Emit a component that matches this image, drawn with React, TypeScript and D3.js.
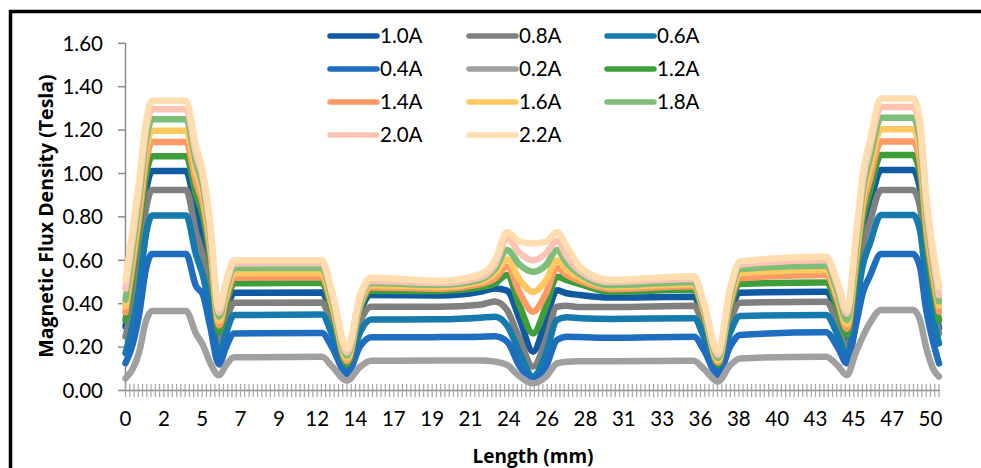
import React from "react";
import * as d3 from "d3";

const LENGTH_MM = [0, 0.40, 0.84, 1.27, 1.65, 3.76, 4.38, 4.81, 5.25, 5.81, 6.24, 6.74, 12.20, 12.83, 13.76, 14.57, 15.25, 19.53, 22.02, 22.95, 23.70, 24.50, 25.31, 26.12, 26.80, 27.42, 28.23, 30.09, 35.31, 35.93, 36.80, 37.55, 38.17, 43.51, 44.25, 44.81, 45.37, 45.81, 46.24, 46.93, 48.91, 49.35, 49.72, 50.16, 50.53];

const B_10 = [.294, .452, .667, .918, 1.011, 1.011, .818, .703, .533, .24, .356, .45, .452, .332, .11, .358, .44, .438, .455, .47, .46, .325, .179, .325, .462, .448, .44, .428, .432, .319, .11, .349, .451, .455, .337, .218, .497, .737, .856, 1.016, 1.016, .929, .652, .433, .287];
const B_08 = [.248, .383, .572, .836, .924, .924, .729, .620, .453, .20, .312, .404, .405, .298, .10, .315, .386, .386, .395, .41, .37, .233, .11, .233, .386, .39, .385, .385, .39, .287, .095, .311, .404, .409, .30, .19, .447, .667, .777, .924, .924, .845, .594, .396, .264];
const B_06 = [.172, .286, .464, .718, .807, .807, .626, .529, .374, .16, .263, .348, .35, .259, .09, .268, .327, .328, .335, .34, .30, .171, .064, .171, .325, .337, .333, .33, .333, .246, .085, .266, .343, .348, .252, .156, .385, .580, .678, .809, .809, .738, .513, .335, .217];
const B_04 = [.126, .201, .347, .559, .629, .629, .481, .441, .298, .12, .199, .263, .265, .199, .075, .203, .245, .246, .248, .25, .225, .11, .048, .11, .233, .248, .246, .243, .248, .186, .071, .201, .256, .268, .197, .125, .301, .453, .528, .629, .629, .569, .377, .226, .125];
const B_02 = [.056, .093, .174, .32, .366, .366, .262, .209, .129, .07, .116, .153, .155, .111, .045, .109, .137, .138, .138, .133, .118, .064, .033, .064, .125, .133, .135, .135, .137, .099, .041, .116, .148, .156, .114, .071, .176, .251, .311, .371, .371, .325, .202, .101, .064];
const B_12 = [.325, .514, .740, .989, 1.08, 1.08, .902, .805, .610, .27, .393, .494, .496, .364, .12, .375, .46, .458, .475, .494, .532, .386, .263, .386, .524, .509, .49, .455, .465, .344, .12, .38, .491, .498, .377, .256, .546, .795, .919, 1.085, 1.085, .994, .705, .477, .325];
const B_14 = [.36, .556, .792, 1.051, 1.145, 1.145, .959, .858, .655, .30, .421, .52, .522, .387, .135, .39, .475, .469, .49, .517, .57, .448, .363, .448, .565, .532, .505, .468, .48, .358, .13, .401, .517, .532, .409, .285, .587, .845, .975, 1.147, 1.147, 1.053, .755, .52, .363];
const B_16 = [.39, .592, .834, 1.100, 1.197, 1.197, 1.004, .899, .688, .32, .441, .54, .542, .404, .147, .401, .485, .478, .50, .54, .604, .509, .455, .509, .60, .555, .52, .478, .49, .368, .14, .42, .54, .555, .43, .305, .620, .889, 1.024, 1.204, 1.204, 1.106, .797, .553, .39];
const B_18 = [.42, .628, .877, 1.150, 1.25, 1.25, 1.050, .941, .722, .34, .464, .565, .565, .423, .16, .411, .495, .487, .51, .56, .648, .578, .547, .578, .647, .586, .535, .485, .50, .378, .15, .437, .56, .575, .45, .325, .651, .931, 1.071, 1.257, 1.257, 1.155, .834, .579, .41];
const B_20 = [.47, .677, .924, 1.197, 1.296, 1.296, 1.090, .978, .753, .36, .484, .585, .588, .443, .175, .423, .505, .495, .52, .58, .70, .632, .60, .632, .69, .617, .55, .50, .515, .393, .165, .456, .58, .60, .478, .355, .688, .974, 1.117, 1.307, 1.307, 1.203, .874, .613, .44];
const B_22 = [.51, .716, .964, 1.236, 1.335, 1.335, 1.125, 1.010, .781, .38, .501, .60, .60, .458, .195, .439, .52, .505, .535, .60, .73, .686, .678, .686, .73, .663, .57, .51, .527, .406, .18, .47, .595, .616, .494, .371, .712, 1.005, 1.151, 1.346, 1.346, 1.242, .913, .653, .48];

const SERIES_NAMES = ["1.0A", "0.8A", "0.6A", "0.4A", "0.2A", "1.2A", "1.4A", "1.6A", "1.8A", "2.0A", "2.2A"];
const SERIES_VALUES = [B_10, B_08, B_06, B_04, B_02, B_12, B_14, B_16, B_18, B_20, B_22];
const SERIES_COLORS = ["#0F5AA0", "#808080", "#157AAE", "#1E6DC0", "#A0A0A0", "#3D9E3A", "#FF9966", "#FFC960", "#7DBE78", "#FFC3B3", "#FFDDAF"];

const X_TICK_LABELS = ["0", "2", "5", "7", "9", "12", "14", "17", "19", "21", "24", "26", "28", "31", "33", "36", "38", "40", "43", "45", "47", "50"];
const Y_TICKS = [0, 0.2, 0.4, 0.6, 0.8, 1.0, 1.2, 1.4, 1.6];
const N_CATEGORIES = 192;
const LABEL_EVERY = 9;
const X_MAX_MM = 50.53;

const FONT = "Lato, 'Open Sans', sans-serif";
const TITLE_FONT = "'Open Sans', Lato, sans-serif";

export default function App() {
  const W = 981, H = 468;
  const x = d3.scaleLinear().domain([0, X_MAX_MM]).range([125.5, 939]);
  const y = d3.scaleLinear().domain([0, 1.6]).range([390.5, 43.3]);
  const catStep = X_MAX_MM / (N_CATEGORIES - 1);
  const line = d3
    .line<number>()
    .x((_, i) => x(LENGTH_MM[i]))
    .y((d) => y(d))
    .curve(d3.curveMonotoneX);

  const legendCols = [328, 467, 605];
  const legendRows = [36, 69, 102, 135];

  return (
    <svg
      width={W}
      height={H}
      style={{ position: "fixed", left: 0, top: 0, background: "#fff" }}
      fontFamily={FONT}
    >
      <rect x={0} y={0} width={W} height={H} fill="#fff" />
      <rect x={10.5} y={11.5} width={W + 20} height={H + 20} fill="none" stroke="#000" strokeWidth={3.5} />

      {/* Y axis */}
      <line x1={125.5} x2={125.5} y1={y(1.6)} y2={y(0)} stroke="#8c8c8c" strokeWidth={1.5} />
      {Y_TICKS.map((t) => (
        <g key={t}>
          <line x1={118} x2={125.5} y1={y(t)} y2={y(t)} stroke="#8c8c8c" strokeWidth={1.5} />
          <text x={103} y={y(t)} dy="0.36em" textAnchor="end" fontSize={20.5} fill="#000">
            {t.toFixed(2)}
          </text>
        </g>
      ))}

      {/* X axis */}
      <line x1={125} x2={940} y1={y(0)} y2={y(0)} stroke="#8c8c8c" strokeWidth={1.5} />
      {d3.range(N_CATEGORIES).map((i) => (
        <line
          key={i}
          x1={x(i * catStep)}
          x2={x(i * catStep)}
          y1={y(0) - 6.5}
          y2={y(0) + 6.5}
          stroke="#a6a6a6"
          strokeWidth={1.2}
        />
      ))}
      {X_TICK_LABELS.map((lab, k) => (
        <text key={lab} x={x(k * LABEL_EVERY * catStep)} y={426} textAnchor="middle" fontSize={20.5} fill="#000">
          {lab}
        </text>
      ))}

      {/* Series */}
      {SERIES_VALUES.map((vals, s) => (
        <path
          key={SERIES_NAMES[s]}
          d={line(vals) || ""}
          fill="none"
          stroke={SERIES_COLORS[s]}
          strokeWidth={6.5}
          strokeLinejoin="round"
          strokeLinecap="round"
        />
      ))}

      {/* Legend */}
      {SERIES_NAMES.map((name, s) => {
        const cx = legendCols[s % 3];
        const cy = legendRows[Math.floor(s / 3)];
        return (
          <g key={name}>
            <line x1={cx + 2} x2={cx + 49} y1={cy} y2={cy} stroke={SERIES_COLORS[s]} strokeWidth={5.5} strokeLinecap="round" />
            <text x={cx + 52} y={cy} dy="0.36em" fontSize={20.5} fill="#000">
              {name}
            </text>
          </g>
        );
      })}

      {/* Axis titles */}
      <text
        transform={`translate(46, 216) rotate(-90)`}
        textAnchor="middle"
        dy="0.36em"
        fontSize={19.5}
        fontWeight="bold"
        fontFamily={TITLE_FONT}
        fill="#000"
      >
        Magnetic Flux Density (Tesla)
      </text>
      <text x={533} y={463} textAnchor="middle" fontSize={19} fontWeight="bold" fontFamily={TITLE_FONT} fill="#000">
        Length (mm)
      </text>
    </svg>
  );
}
